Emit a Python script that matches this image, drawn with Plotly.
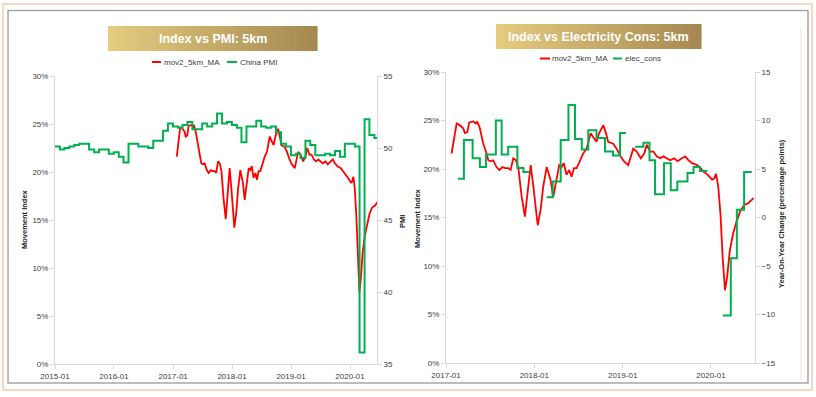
import plotly.graph_objects as go
import pandas as pd

# ---------------- data ----------------
red_dates = ["2017-01-24","2017-02-14","2017-02-28","2017-03-13","2017-03-20","2017-03-30","2017-04-07","2017-04-24",
             "2017-05-05","2017-05-10","2017-05-21","2017-06-04","2017-06-15","2017-06-25","2017-07-05","2017-07-15",
             "2017-07-29","2017-08-09","2017-08-23","2017-09-02","2017-09-15","2017-09-25","2017-10-06","2017-10-17",
             "2017-10-27","2017-11-10","2017-11-23","2017-12-05","2017-12-17","2017-12-28","2018-01-15","2018-01-27",
             "2018-02-07","2018-02-21","2018-03-09","2018-03-20","2018-04-03","2018-04-14","2018-04-24","2018-05-03",
             "2018-05-14","2018-05-25","2018-06-04","2018-06-14","2018-06-25","2018-07-09","2018-07-22","2018-08-05",
             "2018-08-22","2018-09-01","2018-09-15","2018-09-26","2018-10-13","2018-10-24","2018-11-02","2018-11-23",
             "2018-12-07","2018-12-21","2019-01-06","2019-01-24","2019-02-14","2019-02-28","2019-03-17","2019-03-31",
             "2019-04-11","2019-04-25","2019-05-08","2019-05-22","2019-06-05","2019-06-19","2019-07-03","2019-07-16",
             "2019-08-02","2019-08-16","2019-09-03","2019-09-17","2019-09-30","2019-10-15","2019-11-05","2019-11-19",
             "2019-12-02","2019-12-19","2020-01-06","2020-01-14","2020-01-22","2020-01-31","2020-02-10","2020-02-18",
             "2020-02-28","2020-03-08","2020-03-19","2020-04-02","2020-04-16","2020-04-30","2020-05-17","2020-06-04",
             "2020-06-25"]
red_values = [21.6,24.7,24.5,24.2,23.7,23.8,24.8,24.9,24.7,24.9,24.2,22.6,21.8,20.9,20.8,20.9,20.2,19.9,20.2,20.1,
              20.1,19.9,21.1,20.9,20.1,17.1,15.1,17.8,20.4,18.2,14.2,15.8,18.2,20.2,18.9,17.1,19.0,20.4,20.2,20.6,
              19.4,19.9,19.2,20.1,20.1,20.9,21.6,22.1,23.7,23.3,22.8,23.7,24.5,23.7,22.8,22.6,22.1,21.4,20.8,20.4,
              22.1,21.8,21.1,21.6,22.5,21.8,21.8,21.3,21.1,21.3,21.1,20.9,21.1,20.8,21.1,21.3,20.9,20.6,20.4,20.1,
              19.7,19.4,18.9,19.0,19.5,18.2,15.1,11.0,7.5,8.9,11.6,13.4,14.6,15.6,16.3,16.5,17.0]

pmi_months = ["2014-12","2015-01","2015-02","2015-03","2015-04","2015-05","2015-06","2015-07","2015-08","2015-09",
              "2015-10","2015-11","2015-12","2016-01","2016-02","2016-03","2016-04","2016-05","2016-06","2016-07",
              "2016-08","2016-09","2016-10","2016-11","2016-12","2017-01","2017-02","2017-03","2017-04","2017-05",
              "2017-06","2017-07","2017-08","2017-09","2017-10","2017-11","2017-12","2018-01","2018-02","2018-03",
              "2018-04","2018-05","2018-06","2018-07","2018-08","2018-09","2018-10","2018-11","2018-12","2019-01",
              "2019-02","2019-03","2019-04","2019-05","2019-06","2019-07","2019-08","2019-09","2019-10","2019-11",
              "2019-12","2020-01","2020-02","2020-03","2020-04","2020-05","2020-06"]
pmi_values = [50.1,49.9,50.0,50.1,50.2,50.3,50.3,49.9,49.7,49.9,
              49.9,49.6,49.7,49.4,49.0,50.3,50.3,50.1,50.1,50.0,
              50.5,50.5,51.2,51.7,51.5,51.4,51.6,51.8,51.3,51.3,
              51.7,51.5,51.7,52.4,51.7,51.8,51.6,51.4,50.4,51.5,
              51.5,51.9,51.5,51.4,51.5,51.1,50.3,50.1,49.5,49.6,
              49.3,50.5,50.2,49.5,49.5,49.6,49.5,49.8,49.4,50.3,
              50.3,50.1,35.8,52.0,50.9,50.7,50.7]

elec_dates = ["2017-02-19","2017-03-16","2017-04-21","2017-05-21","2017-06-15","2017-07-26","2017-08-19","2017-09-15",
              "2017-10-23","2017-11-17","2017-12-14","2018-01-15",
              "2018-02-21","2018-03-18","2018-04-20","2018-05-22","2018-06-18","2018-07-16","2018-08-12","2018-09-15",
              "2018-10-20","2018-11-22","2018-12-21","2019-01-15","2019-02-01",
              "2019-02-22","2019-03-28","2019-04-22","2019-05-15","2019-06-21","2019-07-19","2019-08-15","2019-09-26",
              "2019-10-21","2019-11-17","2019-12-17","2020-01-15",
              "2020-02-19","2020-03-23","2020-04-17","2020-05-17","2020-06-18"]
elec_values = [4.0,8.0,6.1,5.2,6.5,10.0,6.5,7.3,5.1,4.7,4.7,None,
               2.1,3.7,8.0,11.6,8.1,7.0,9.0,8.2,6.8,6.4,8.7,8.7,None,
               7.3,7.7,5.9,2.4,5.6,2.8,3.7,4.6,5.2,4.8,4.8,None,
               -10.1,-4.2,0.8,4.7,4.7]

# PMI values are drawn at the end of each month
pmi_dates = [(pd.Period(m, "M").to_timestamp(how="end")).strftime("%Y-%m-%d") for m in pmi_months]

RED = "#FF0000"
GREEN = "#00B050"
FONT = "Liberation Sans, Arial, sans-serif"

W, H = 816, 397
def px(x): return x / W
def py(y): return 1 - y / H

fig = go.Figure()
fig.add_trace(go.Scatter(x=red_dates, y=red_values, mode="lines", name="mov2_5km_MA",
                         line=dict(color=RED, width=1.8), xaxis="x", yaxis="y", showlegend=False))
fig.add_trace(go.Scatter(x=pmi_dates, y=pmi_values, mode="lines", name="China PMI",
                         line=dict(color=GREEN, width=2, shape="hv"), xaxis="x", yaxis="y2", showlegend=False))
fig.add_trace(go.Scatter(x=red_dates, y=red_values, mode="lines", name="mov2_5km_MA",
                         line=dict(color=RED, width=1.8), xaxis="x2", yaxis="y3", showlegend=False))
fig.add_trace(go.Scatter(x=elec_dates, y=elec_values, mode="lines", name="elec_cons", connectgaps=False,
                         line=dict(color=GREEN, width=2, shape="hv"), xaxis="x2", yaxis="y4", showlegend=False))

AX = dict(showline=True, linecolor="#D9D9D9", linewidth=1, ticks="outside", ticklen=4, tickcolor="#D9D9D9",
          showgrid=False, zeroline=False, automargin=False,
          tickfont=dict(family=FONT, size=8, color="#404040"))

fig.update_layout(
    template="none",
    width=W, height=H, autosize=False, margin=dict(l=0, r=0, t=0, b=0, pad=0),
    paper_bgcolor="white", plot_bgcolor="white", showlegend=False,
    font=dict(family=FONT),
    xaxis=dict(domain=[px(55), px(377)], anchor="y", type="date", range=["2015-01-01", "2020-06-16"],
               tick0="2015-01-01", dtick="M12", tickformat="%Y-%m", **AX),
    yaxis=dict(domain=[py(364), py(76)], anchor="x", range=[0, 30], dtick=5, ticksuffix="%", **AX),
    yaxis2=dict(overlaying="y", anchor="x", side="right", range=[35, 55], dtick=5, **AX),
    xaxis2=dict(domain=[px(446), px(755)], anchor="y3", type="date", range=["2017-01-01", "2020-07-01"],
                tick0="2017-01-01", dtick="M12", tickformat="%Y-%m", **AX),
    yaxis3=dict(domain=[py(363), py(72)], anchor="x2", range=[0, 30], dtick=5, ticksuffix="%", **AX),
    yaxis4=dict(overlaying="y3", anchor="x2", side="right", range=[-15, 15], dtick=5, **AX),
)

shapes = []
# outer peach frame and gray frame
shapes.append(dict(type="rect", xref="paper", yref="paper", x0=px(3), x1=px(812), y0=py(390), y1=py(4),
                   line=dict(color="#F8CBAD", width=1.5), layer="below"))
shapes.append(dict(type="rect", xref="paper", yref="paper", x0=px(8), x1=px(808), y0=py(383), y1=py(10.5),
                   line=dict(color="#A6A6A6", width=1.5), layer="below"))
# faint extra vertical line on the far right
shapes.append(dict(type="line", xref="paper", yref="paper", x0=px(801), x1=px(801), y0=py(380), y1=py(28),
                   line=dict(color="#E6E6E6", width=1), layer="below"))

# gold gradient title boxes
def gold_box(x0, x1, y0, y1, n=48):
    c0 = (228, 203, 126)
    c1 = (166, 137, 82)
    w = (x1 - x0) / n
    for i in range(n):
        t = i / (n - 1)
        c = tuple(int(round(c0[k] + (c1[k] - c0[k]) * t)) for k in range(3))
        col = "rgb(%d,%d,%d)" % c
        shapes.append(dict(type="rect", xref="paper", yref="paper",
                           x0=px(x0 + i * w), x1=px(x0 + (i + 1) * w + 0.6), y0=py(y1), y1=py(y0),
                           line=dict(width=0), fillcolor=col, layer="below"))

gold_box(108, 317, 26, 51)
gold_box(496, 701, 24, 49)

# legend line samples
def leg_line(x0, x1, y, color):
    shapes.append(dict(type="line", xref="paper", yref="paper", x0=px(x0), x1=px(x1), y0=py(y), y1=py(y),
                       line=dict(color=color, width=2)))

leg_line(152, 161, 62, RED)
leg_line(227, 237, 62, GREEN)
leg_line(540, 550, 58.5, RED)
leg_line(613, 622, 58.5, GREEN)

ann = []
def text(x, y, s, size=8, bold=False, color="#404040", angle=0, xanchor="left"):
    ann.append(dict(xref="paper", yref="paper", x=px(x), y=py(y), text=("<b>%s</b>" % s) if bold else s,
                    showarrow=False, textangle=angle, xanchor=xanchor, yanchor="middle",
                    font=dict(family=FONT, size=size, color=color)))

text(212.5, 38.5, "Index vs PMI: 5km", size=12.5, bold=True, color="white", xanchor="center")
text(598.5, 36.5, "Index vs Electricity Cons: 5km", size=12.5, bold=True, color="white", xanchor="center")
text(162, 62, "mov2_5km_MA")
text(238, 62, "China PMI")
text(550, 58.5, "mov2_5km_MA")
text(623, 58.5, "elec_cons")
text(25, 219, "Movement Index", size=7.5, bold=True, color="#262626", angle=-90, xanchor="center")
text(402, 222, "PMI", size=7.5, bold=True, color="#262626", angle=-90, xanchor="center")
text(417, 218, "Movement Index", size=7.5, bold=True, color="#262626", angle=-90, xanchor="center")
text(781, 214, "Year-On-Year Change (percentage points)", size=7.5, bold=True, color="#262626", angle=-90,
     xanchor="center")

fig.update_layout(shapes=shapes, annotations=ann)
fig.write_html("out.html", config={"displayModeBar": False},
               post_script="document.body.style.margin='0';document.body.style.overflow='hidden';"
                           "document.documentElement.style.overflow='hidden';")
